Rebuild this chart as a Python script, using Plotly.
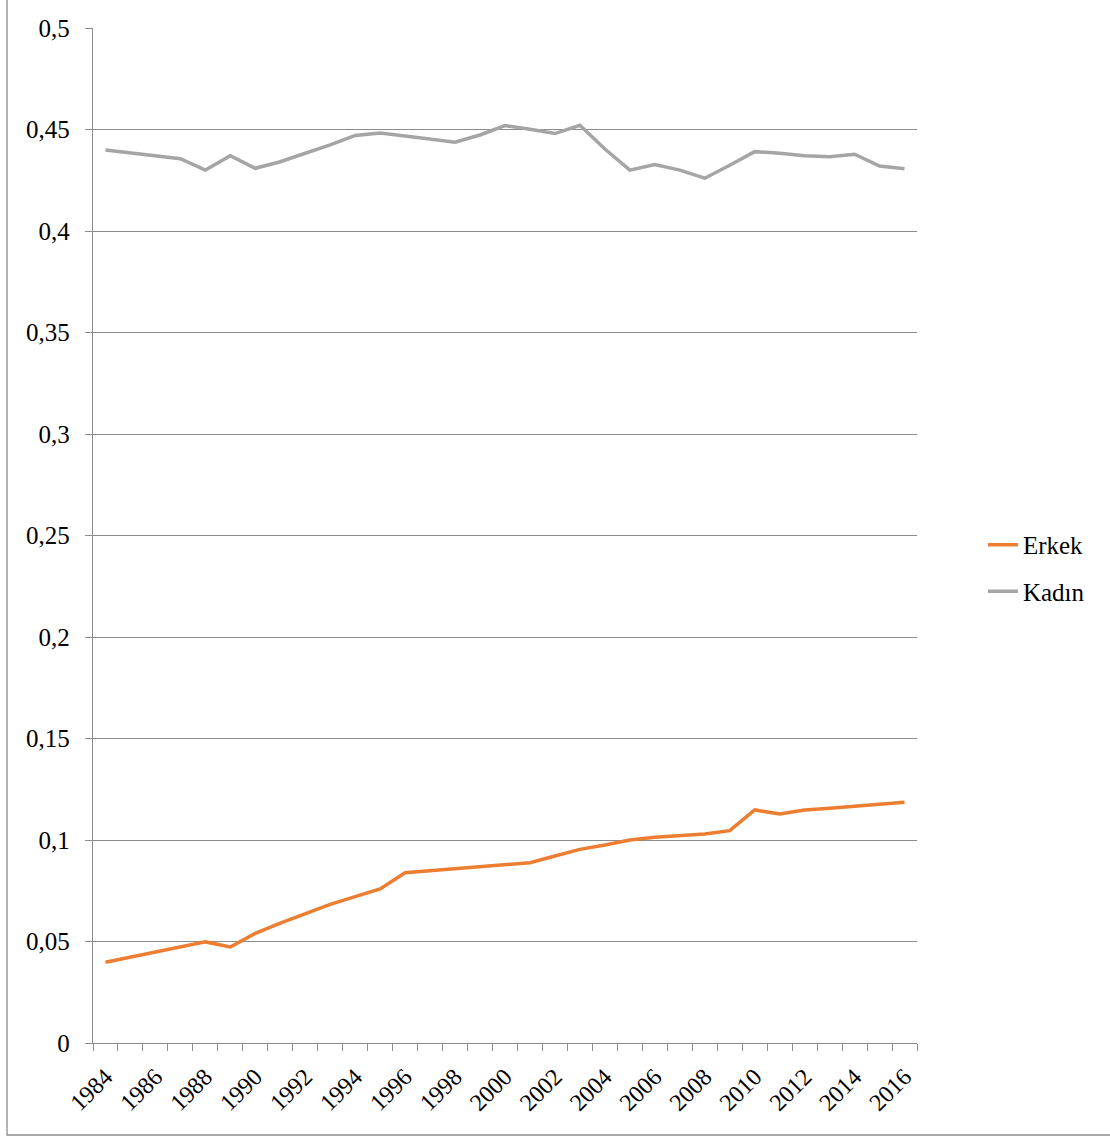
import plotly.graph_objects as go

# Years on the x axis
years = list(range(1984, 2017))

# Ratio series by sex
erkek = [0.0398, 0.0424, 0.0448, 0.0473, 0.0498, 0.0473, 0.0540, 0.0590, 0.0635,
         0.0683, 0.0721, 0.0759, 0.0839, 0.0849, 0.0859, 0.0869, 0.0877, 0.0888,
         0.0921, 0.0954, 0.0975, 0.1000, 0.1013, 0.1021, 0.1030, 0.1046, 0.1148,
         0.1128, 0.1148, 0.1156, 0.1164, 0.1176, 0.1186]
kadin = [0.4399, 0.4386, 0.4371, 0.4356, 0.4300, 0.4371, 0.4309, 0.4341, 0.4383,
         0.4424, 0.4471, 0.4483, 0.4468, 0.4452, 0.4437, 0.4473, 0.4519, 0.4501,
         0.4480, 0.4521, 0.4404, 0.4300, 0.4327, 0.4300, 0.4260, 0.4324, 0.4391,
         0.4383, 0.4371, 0.4366, 0.4378, 0.4320, 0.4307]

# Axis tick labels
y_ticks = [0, 0.05, 0.1, 0.15, 0.2, 0.25, 0.3, 0.35, 0.4, 0.45, 0.5]
y_labels = ["0", "0,05", "0,1", "0,15", "0,2", "0,25", "0,3", "0,35", "0,4", "0,45", "0,5"]
x_label_years = years[::2]

FONT = "Liberation Serif"
AXIS_GRAY = "#8c8c8c"

fig = go.Figure()
fig.add_trace(go.Scatter(x=years, y=erkek, mode="lines", name="Erkek",
                         line=dict(color="#ED7D31", width=3.5), legendgroup="a"))
fig.add_trace(go.Scatter(x=years, y=kadin, mode="lines", name="Kadın",
                         line=dict(color="#A5A5A5", width=3.5), legendgroup="b"))

W, H = 1110, 1137
L, R, T, B = 93, 193, 28, 94
pw, ph = W - L - R, H - T - B

def px_x(p):
    return (p - L) / pw

def px_y(p):
    return (H - B - p) / ph

fig.update_layout(
    width=W, height=H,
    margin=dict(l=L, r=R, t=T, b=B, autoexpand=False),
    paper_bgcolor="white", plot_bgcolor="white",
    font=dict(family=FONT, size=25, color="black"),
    showlegend=True,
    legend=dict(x=1.08, y=0.468, xanchor="left", yanchor="middle",
                tracegroupgap=11, font=dict(size=25, family=FONT, color="black"),
                bgcolor="rgba(0,0,0,0)"),
    xaxis=dict(
        range=[1983.5, 2016.5],
        tickmode="array", tickvals=x_label_years,
        ticktext=[str(y) for y in x_label_years],
        tickangle=-45, ticks="outside", ticklen=0,
        ticklabelstandoff=9,
        showgrid=False, zeroline=False,
        showline=True, linecolor=AXIS_GRAY, linewidth=1.3,
        minor=dict(tickmode="array", tickvals=[y - 0.5 for y in years] + [2016.5],
                   ticks="outside", ticklen=7, tickcolor=AXIS_GRAY, tickwidth=1.3,
                   showgrid=False),
        tickfont=dict(size=24, family=FONT, color="black"),
        fixedrange=True,
    ),
    yaxis=dict(
        range=[0, 0.5],
        tickmode="array", tickvals=y_ticks, ticktext=y_labels,
        ticks="outside", ticklen=7, tickcolor=AXIS_GRAY, tickwidth=1.3,
        showgrid=True, gridcolor=AXIS_GRAY, gridwidth=1.2,
        zeroline=False,
        showline=True, linecolor=AXIS_GRAY, linewidth=1.3,
        tickfont=dict(size=25, family=FONT, color="black"),
        ticklabelstandoff=10,
        fixedrange=True,
    ),
    shapes=[dict(type="rect", xref="paper", yref="paper",
                 x0=px_x(7), x1=px_x(1112), y0=px_y(1135), y1=px_y(-2),
                 line=dict(color=AXIS_GRAY, width=1.3), fillcolor="rgba(0,0,0,0)",
                 layer="below")],
)

fig.write_html("out.html")
